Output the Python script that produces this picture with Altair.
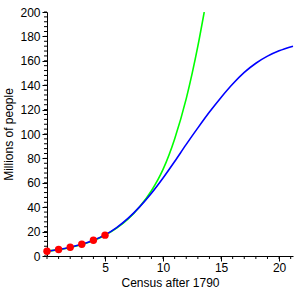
import altair as alt
import pandas as pd

# Census data (millions), census index after 1790
census_x = [0, 1, 2, 3, 4, 5]
census_y = [3.9, 5.3, 7.2, 9.6, 12.9, 17.1]

# Exponential model (green)
exp_x = [0, 1, 2, 3, 4, 5, 6, 7, 8, 9, 10, 11, 12, 13, 13.55]
exp_y = [3.9, 5.2, 7.0, 9.4, 12.6, 17.0, 22.8, 30.3, 40.5, 53.5, 71.0, 96.0, 129.0, 172.0, 200.0]

# Logistic model (blue)
log_x = [0, 1, 2, 3, 4, 5, 6, 7, 8, 9, 10, 11, 12, 13, 14, 15, 16, 17, 18, 19, 20, 21.2]
log_y = [3.9, 5.3, 7.2, 9.6, 12.9, 17.3, 23.3, 31.0, 40.5, 51.5, 64.0, 77.5, 91.5, 105.0, 118.0, 130.0, 141.0, 150.5, 158.0, 163.8, 168.2, 172.0]

x_major = [5, 10, 15, 20]
x_minor = list(range(0, 22))
y_major = [0, 20, 40, 60, 80, 100, 120, 140, 160, 180, 200]
y_minor = list(range(0, 201, 4))

census = pd.DataFrame({"x": census_x, "y": census_y})
expo = pd.DataFrame({"x": exp_x, "y": exp_y})
logi = pd.DataFrame({"x": log_x, "y": log_y})
xmin_df = pd.DataFrame({"x": x_minor})
ymin_df = pd.DataFrame({"y": y_minor})

FONT = "Liberation Sans"
xs = alt.Scale(domain=[0, 21.2], nice=False, zero=False)
ys = alt.Scale(domain=[0, 200], nice=False)

x_axis = alt.Axis(values=x_major, title="Census after 1790", orient="bottom",
                  grid=False, tickSize=5, labelPadding=1, labelFontSize=12,
                  labelOverlap=False,
                  titleFontSize=12, titleFontWeight="normal", titleX=123, titleY=26,
                  titleBaseline="middle", titleAlign="center",
                  domainColor="black", tickColor="black", labelColor="black",
                  titleColor="black", labelFont=FONT, titleFont=FONT)
y_axis = alt.Axis(values=y_major, title="Millions of people", orient="left",
                  grid=False, tickSize=5, labelPadding=2, labelFontSize=12,
                  labelOverlap=False,
                  titleFontSize=12, titleFontWeight="normal", titleAngle=-90,
                  titleX=-39, titleY=122, titleBaseline="middle", titleAlign="center",
                  domainColor="black", tickColor="black", labelColor="black",
                  titleColor="black", labelFont=FONT, titleFont=FONT)

X = alt.X("x:Q", scale=xs, axis=x_axis, title="Census after 1790")
Y = alt.Y("y:Q", scale=ys, axis=y_axis, title="Millions of people")

green = alt.Chart(expo).mark_line(color="#00FF00", strokeWidth=1.6, clip=True, interpolate="monotone").encode(
    x=X, y=Y,
)
blue = alt.Chart(logi).mark_line(color="#0000FF", strokeWidth=1.6, interpolate="monotone").encode(
    x=X, y=Y,
)
x_minor_ticks = alt.Chart(xmin_df).mark_rule(color="black", strokeWidth=1).encode(
    x=X,
    y=alt.value(244),
    y2=alt.value(247),
)
y_minor_ticks = alt.Chart(ymin_df).mark_rule(color="black", strokeWidth=1).encode(
    y=Y,
    x=alt.value(-3),
    x2=alt.value(0),
)
points = alt.Chart(census).mark_point(filled=True, color="#FF0000", opacity=1, size=55, shape="circle").encode(
    x=X, y=Y,
)

chart = alt.layer(green, blue, x_minor_ticks, y_minor_ticks, points).properties(
    width=246, height=244,
    autosize=alt.AutoSizeParams(type="none"),
    padding={"left": 47, "top": 12, "right": 3, "bottom": 40},
    background="white",
).configure_view(stroke=None)

chart.save("out.html", embed_options={"renderer": "svg", "actions": False})
